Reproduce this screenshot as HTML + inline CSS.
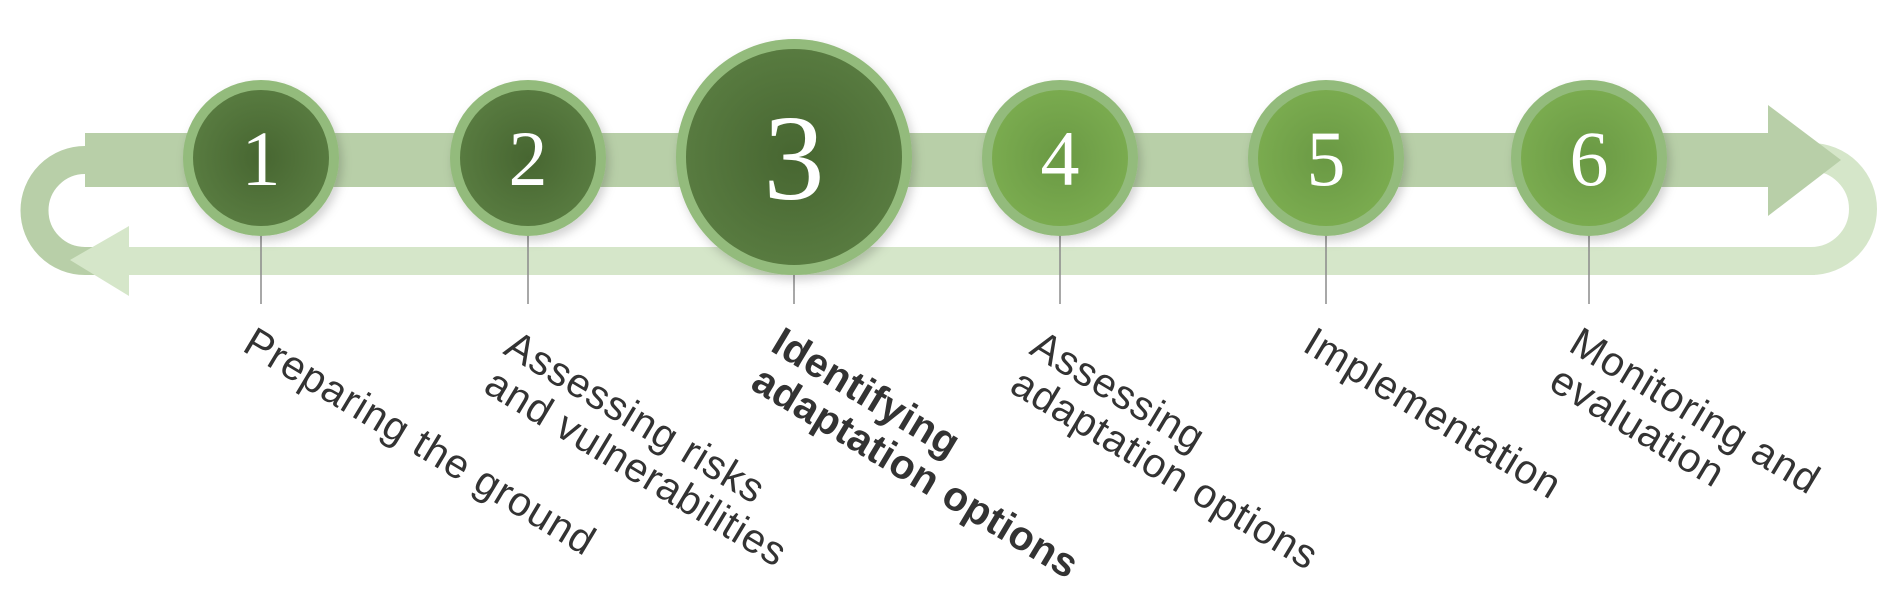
<!DOCTYPE html>
<html><head><meta charset="utf-8"><style>
html,body{margin:0;padding:0;background:#fff;}
svg{display:block;}
text.l{font-family:"Liberation Sans",sans-serif;font-size:41px;letter-spacing:0.8px;fill:#333;}
text.b{font-weight:bold;letter-spacing:0.3px;}
text.n{font-family:"Liberation Serif",serif;fill:#fff;text-anchor:middle;}
</style></head><body>
<svg width="1902" height="591" viewBox="0 0 1902 591" xmlns="http://www.w3.org/2000/svg">
<defs>
<radialGradient id="gd" cx="50%" cy="50%" r="50%">
<stop offset="0" stop-color="#476631"/><stop offset="1" stop-color="#587b40"/>
</radialGradient>
<radialGradient id="gl" cx="50%" cy="50%" r="50%">
<stop offset="0" stop-color="#6a9944"/><stop offset="1" stop-color="#7aab4f"/>
</radialGradient>
<filter id="sh" x="-30%" y="-30%" width="160%" height="160%">
<feDropShadow dx="3" dy="5" stdDeviation="5" flood-color="#000" flood-opacity="0.18"/>
</filter>
</defs>
<!-- left loop -->
<path d="M140 160 H85 A50.5 50.5 0 0 0 85 261 H100" fill="none" stroke="#b8cfa8" stroke-width="28"/>
<!-- bottom band -->
<rect x="125" y="247" width="1690" height="28" fill="#d5e6c9"/>
<path d="M1780 261 H1811 A52 52 0 0 0 1811 157" fill="none" stroke="#d5e6c9" stroke-width="28"/>
<polygon points="70,260 129,226 129,296" fill="#d5e6c9"/>
<!-- top band -->
<rect x="85" y="133" width="1685" height="54" fill="#b8cfa8"/>
<polygon points="1768,105 1841,160 1768,216" fill="#b8cfa8"/>
<!-- lines -->
<g stroke="#8a8a8a" stroke-width="1.5">
<line x1="261" y1="230" x2="261" y2="304"/>
<line x1="528" y1="230" x2="528" y2="304"/>
<line x1="794" y1="270" x2="794" y2="304"/>
<line x1="1060" y1="230" x2="1060" y2="304"/>
<line x1="1326" y1="230" x2="1326" y2="304"/>
<line x1="1589" y1="230" x2="1589" y2="304"/>
</g>
<!-- circles -->
<g filter="url(#sh)">
<circle cx="261" cy="158" r="78" fill="#93bb7c"/>
<circle cx="528" cy="158" r="78" fill="#93bb7c"/>
<circle cx="794" cy="157" r="118" fill="#93bb7c"/>
<circle cx="1060" cy="158" r="78" fill="#93bb7c"/>
<circle cx="1326" cy="158" r="78" fill="#93bb7c"/>
<circle cx="1589" cy="158" r="78" fill="#93bb7c"/>
</g>
<circle cx="261" cy="158" r="68" fill="url(#gd)"/>
<circle cx="528" cy="158" r="68" fill="url(#gd)"/>
<circle cx="794" cy="157" r="108" fill="url(#gd)"/>
<circle cx="1060" cy="158" r="68" fill="url(#gl)"/>
<circle cx="1326" cy="158" r="68" fill="url(#gl)"/>
<circle cx="1589" cy="158" r="68" fill="url(#gl)"/>
<text class="n" x="261" y="185" font-size="78">1</text>
<text class="n" x="528" y="185" font-size="78">2</text>
<text class="n" x="794" y="199" font-size="122">3</text>
<text class="n" x="1060" y="185" font-size="78">4</text>
<text class="n" x="1326" y="185" font-size="78">5</text>
<text class="n" x="1589" y="185" font-size="78">6</text>
<!-- labels -->
<text class="l" x="241" y="350" transform="rotate(31 241 350)">Preparing the ground</text>
<text class="l" x="502" y="353" transform="rotate(31 502 353)">Assessing risks</text>
<text class="l" x="482" y="391" transform="rotate(31 482 391)">and vulnerabilities</text>
<text class="l b" x="769" y="350" transform="rotate(31 769 350)">Identifying</text>
<text class="l b" x="749" y="388" transform="rotate(31 749 388)">adaptation options</text>
<text class="l" x="1028" y="353" transform="rotate(31 1028 353)">Assessing</text>
<text class="l" x="1008" y="391" transform="rotate(31 1008 391)">adaptation options</text>
<text class="l" x="1301" y="350" transform="rotate(31 1301 350)">Implementation</text>
<text class="l" x="1567" y="350" transform="rotate(31 1567 350)">Monitoring and</text>
<text class="l" x="1547" y="388" transform="rotate(31 1547 388)">evaluation</text>
</svg>
</body></html>
